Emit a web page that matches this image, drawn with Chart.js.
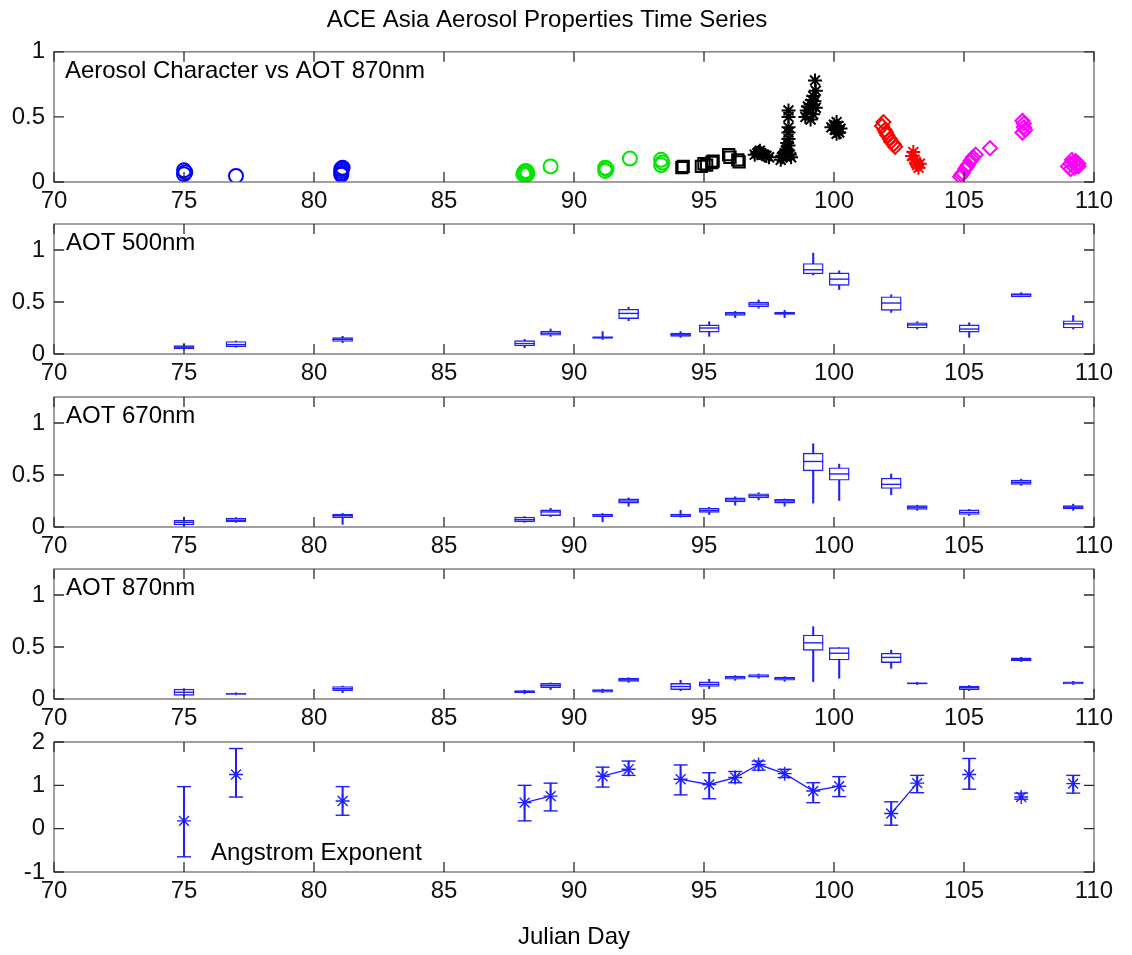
<!DOCTYPE html>
<html>
<head>
<meta charset="utf-8">
<title>ACE Asia Aerosol Properties Time Series</title>
<script src="https://cdn.jsdelivr.net/npm/chart.js@4.4.1/dist/chart.umd.min.js"></script>
<style>
  html, body { margin: 0; padding: 0; background: #fff; overflow: hidden; }
  #wrap { position: relative; width: 1132px; height: 955px; }
  #wrap canvas { position: absolute; left: 0; }
</style>
</head>
<body>
<div id="wrap">
  <canvas id="p1" width="1132" height="222" style="top:0px"></canvas>
  <canvas id="p2" width="1132" height="200" style="top:194px"></canvas>
  <canvas id="p3" width="1132" height="200" style="top:367px"></canvas>
  <canvas id="p4" width="1132" height="200" style="top:539px"></canvas>
  <canvas id="p5" width="1132" height="240" style="top:712px"></canvas>
</div>
<script>
// tick labels
const dayTicks = [70, 75, 80, 85, 90, 95, 100, 105, 110];
const charTicks = [0, 0.5, 1];
const aotTicks = [0, 0.5, 1];
const angTicks = [-1, 0, 1, 2];

// aerosol character vs AOT 870nm (julian day, AOT)
const blueCircleDay = [75.0, 75.0, 75.05, 77.0, 81.05, 81.05, 81.05, 81.05, 81.1];
const blueCircleAot = [0.06, 0.09, 0.075, 0.046, 0.055, 0.07, 0.085, 0.10, 0.11];
const greenCircleDay = [88.05, 88.1, 88.15, 88.2, 88.1, 88.2, 88.15, 89.1, 91.2, 91.25, 91.2, 92.15, 93.35, 93.4, 93.35];
const greenCircleAot = [0.06, 0.065, 0.07, 0.075, 0.08, 0.06, 0.085, 0.12, 0.085, 0.10, 0.11, 0.18, 0.13, 0.15, 0.17];
const blackSquareDay = [94.15, 94.2, 94.9, 95.0, 95.1, 95.3, 95.35, 95.95, 96.0, 96.3, 96.35];
const blackSquareAot = [0.11, 0.12, 0.12, 0.14, 0.13, 0.15, 0.16, 0.21, 0.19, 0.17, 0.155];
const blackStarDay = [96.95, 97.05, 97.1, 97.2, 97.3, 97.4, 97.5, 97.15,
  97.95, 98.0, 98.05, 98.1, 98.15, 98.2, 98.25, 98.2, 98.3, 98.35,
  98.25, 98.25, 98.25, 98.25, 98.25,
  98.9, 98.95, 99.0, 99.1, 99.15, 99.2, 99.25, 99.3, 99.2, 99.1, 99.3, 99.27,
  99.9, 100.0, 100.05, 100.1, 100.15, 100.2, 100.25, 100.1];
const blackStarAot = [0.21, 0.22, 0.23, 0.22, 0.21, 0.20, 0.19, 0.24,
  0.17, 0.19, 0.20, 0.22, 0.24, 0.25, 0.28, 0.30, 0.21, 0.19,
  0.55, 0.50, 0.42, 0.38, 0.33,
  0.50, 0.55, 0.58, 0.60, 0.63, 0.66, 0.62, 0.57, 0.52, 0.48, 0.70, 0.78,
  0.42, 0.44, 0.40, 0.46, 0.43, 0.38, 0.41, 0.37];
const redDiamondDay = [101.85, 101.9, 101.95, 102.0, 102.05, 102.15, 102.2, 102.3, 102.35];
const redDiamondAot = [0.43, 0.46, 0.40, 0.38, 0.36, 0.33, 0.31, 0.29, 0.27];
const redStarDay = [103.0, 103.05, 103.1, 103.15, 103.2, 103.25, 103.3];
const redStarAot = [0.20, 0.23, 0.17, 0.15, 0.13, 0.11, 0.14];
const magentaDiamondDay = [104.85, 104.9, 104.95, 105.05, 105.1, 105.15, 105.25, 105.3, 105.35, 105.45, 106.0,
  107.25, 107.3, 107.3, 107.35, 107.25,
  109.0, 109.1, 109.2, 109.3, 109.4, 109.15, 109.25, 109.1, 109.3, 109.4];
const magentaDiamondAot = [0.04, 0.055, 0.07, 0.10, 0.115, 0.13, 0.16, 0.175, 0.19, 0.21, 0.26,
  0.38, 0.42, 0.45, 0.40, 0.47,
  0.12, 0.14, 0.15, 0.13, 0.12, 0.17, 0.11, 0.10, 0.16, 0.14];

// daily box statistics
const boxDays = [75.0, 77.0, 81.1, 88.1, 89.1, 91.1, 92.1, 94.1, 95.2, 96.2, 97.1, 98.1, 99.2, 100.2, 102.2, 103.2, 105.2, 107.2, 109.2];

const aot500Lo  = [0.04, 0.065, 0.11, 0.06, 0.17, 0.14, 0.32, 0.16, 0.17, 0.35, 0.44, 0.35, 0.76, 0.62, 0.40, 0.24, 0.16, 0.55, 0.24];
const aot500Q1  = [0.05, 0.07, 0.12, 0.077, 0.18, 0.15, 0.34, 0.17, 0.21, 0.37, 0.455, 0.38, 0.77, 0.66, 0.42, 0.25, 0.21, 0.55, 0.25];
const aot500Med = [0.065, 0.09, 0.14, 0.10, 0.20, 0.16, 0.39, 0.185, 0.25, 0.385, 0.48, 0.39, 0.81, 0.72, 0.49, 0.28, 0.24, 0.57, 0.29];
const aot500Q3  = [0.08, 0.12, 0.157, 0.128, 0.22, 0.165, 0.43, 0.20, 0.28, 0.40, 0.50, 0.40, 0.87, 0.78, 0.55, 0.30, 0.28, 0.58, 0.32];
const aot500Hi  = [0.10, 0.125, 0.17, 0.14, 0.24, 0.215, 0.45, 0.215, 0.31, 0.41, 0.52, 0.42, 0.97, 0.80, 0.57, 0.31, 0.30, 0.59, 0.37];

const aot670Lo  = [0.01, 0.045, 0.025, 0.045, 0.10, 0.05, 0.20, 0.095, 0.12, 0.21, 0.26, 0.20, 0.23, 0.255, 0.31, 0.16, 0.11, 0.40, 0.16];
const aot670Q1  = [0.02, 0.05, 0.09, 0.05, 0.11, 0.10, 0.23, 0.10, 0.14, 0.24, 0.28, 0.23, 0.54, 0.45, 0.37, 0.17, 0.12, 0.41, 0.175];
const aot670Med = [0.045, 0.065, 0.11, 0.07, 0.145, 0.115, 0.25, 0.115, 0.16, 0.26, 0.30, 0.25, 0.63, 0.51, 0.41, 0.19, 0.14, 0.43, 0.19];
const aot670Q3  = [0.065, 0.085, 0.125, 0.095, 0.165, 0.125, 0.27, 0.125, 0.18, 0.28, 0.32, 0.265, 0.71, 0.57, 0.47, 0.205, 0.165, 0.45, 0.205];
const aot670Hi  = [0.095, 0.09, 0.13, 0.10, 0.18, 0.13, 0.28, 0.16, 0.19, 0.29, 0.33, 0.27, 0.80, 0.605, 0.51, 0.21, 0.17, 0.46, 0.22];

const aot870Lo  = [0.03, 0.04, 0.06, 0.05, 0.09, 0.06, 0.16, 0.08, 0.10, 0.18, 0.20, 0.17, 0.167, 0.20, 0.295, 0.14, 0.08, 0.36, 0.14];
const aot870Q1  = [0.035, 0.045, 0.08, 0.06, 0.11, 0.065, 0.17, 0.09, 0.12, 0.19, 0.21, 0.18, 0.468, 0.375, 0.35, 0.145, 0.09, 0.365, 0.145];
const aot870Med = [0.065, 0.05, 0.10, 0.07, 0.13, 0.08, 0.185, 0.12, 0.14, 0.21, 0.22, 0.20, 0.54, 0.44, 0.40, 0.15, 0.11, 0.38, 0.155];
const aot870Q3  = [0.095, 0.055, 0.12, 0.08, 0.15, 0.09, 0.20, 0.15, 0.165, 0.22, 0.235, 0.21, 0.615, 0.494, 0.44, 0.155, 0.125, 0.395, 0.165];
const aot870Hi  = [0.10, 0.06, 0.125, 0.085, 0.155, 0.095, 0.205, 0.18, 0.19, 0.225, 0.24, 0.215, 0.695, 0.494, 0.47, 0.16, 0.13, 0.40, 0.17];

// angstrom exponent mean and spread, runs of consecutive days are joined
const angMean = [0.18, 1.25, 0.64, 0.60, 0.75, 1.21, 1.37, 1.14, 1.02, 1.18, 1.48, 1.27, 0.87, 0.98, 0.35, 1.05, 1.25, 0.73, 1.04];
const angLo   = [-0.65, 0.73, 0.31, 0.18, 0.41, 0.96, 1.23, 0.78, 0.69, 1.06, 1.35, 1.18, 0.60, 0.74, 0.08, 0.83, 0.91, 0.68, 0.82];
const angHi   = [0.97, 1.85, 0.97, 1.00, 1.05, 1.42, 1.56, 1.47, 1.29, 1.32, 1.56, 1.37, 1.06, 1.20, 0.62, 1.23, 1.62, 0.82, 1.23];
const angRun  = [1, 2, 3, 4, 4, 5, 5, 6, 6, 6, 6, 6, 6, 6, 7, 7, 8, 9, 10];

const BLUE = 'rgb(30,30,255)';
const FONT = '"Liberation Sans", Arial, Helvetica, sans-serif';

Chart.defaults.font.family = FONT;
Chart.defaults.font.size = 24;
Chart.defaults.color = '#111';

const pts = (xs, ys) => xs.map((x, i) => ({x: x, y: ys[i]}));

// matlab style box with inward ticks and the panel label
const matlabAxes = {
    id: 'matlabAxes',
    afterDatasetsDraw(chart, args, opts) {
        const {ctx, chartArea: a, scales} = chart;
        const x = scales.x, y = scales.y;
        ctx.save();
        ctx.strokeStyle = '#6e6e6e';
        ctx.lineWidth = 1.3;
        ctx.strokeRect(a.left, a.top, a.right - a.left, a.bottom - a.top);
        ctx.strokeStyle = '#2a2a2a';
        ctx.beginPath();
        x.ticks.forEach(t => {
            const px = x.getPixelForValue(t.value);
            ctx.moveTo(px, a.bottom); ctx.lineTo(px, a.bottom - 10);
            ctx.moveTo(px, a.top); ctx.lineTo(px, a.top + 10);
        });
        y.ticks.forEach(t => {
            const py = y.getPixelForValue(t.value);
            ctx.moveTo(a.left, py); ctx.lineTo(a.left + 10, py);
            ctx.moveTo(a.right, py); ctx.lineTo(a.right - 10, py);
        });
        ctx.stroke();
        if (opts.text) {
            ctx.fillStyle = '#000';
            ctx.font = '24px ' + FONT;
            ctx.textAlign = 'left';
            ctx.textBaseline = 'middle';
            ctx.fillText(opts.text, x.getPixelForValue(opts.at[0]), y.getPixelForValue(opts.at[1]));
        }
        ctx.restore();
    }
};

function makePanel(id, datasets, yMin, yMax, yTicks, label, at, extra) {
    const xAxisHeight = extra && extra.xTitle ? 80 : 40;
    const options = {
        responsive: false,
        devicePixelRatio: 1,
        animation: false,
        events: [],
        layout: {padding: {top: extra && extra.title ? 0 : 30, right: 38, left: 0, bottom: 0}},
        plugins: {
            legend: {display: false},
            tooltip: {enabled: false},
            title: {
                display: !!(extra && extra.title),
                text: extra && extra.title ? extra.title : '',
                color: '#000',
                font: {size: 24, weight: 'normal'},
                padding: {top: 6, bottom: 17}
            },
            matlabAxes: {text: label, at: at}
        },
        scales: {
            x: {
                type: 'linear',
                offset: false,
                min: 70,
                max: 110,
                grid: {display: false, drawTicks: false},
                border: {display: false},
                afterBuildTicks: s => { s.ticks = dayTicks.map(v => ({value: v})); },
                afterFit: s => { s.height = xAxisHeight; },
                ticks: {padding: 5, maxRotation: 0, autoSkip: false, callback: v => String(v)},
                title: {
                    display: !!(extra && extra.xTitle),
                    text: extra && extra.xTitle ? extra.xTitle : '',
                    color: '#000',
                    font: {size: 24},
                    padding: {top: 0, bottom: 0}
                }
            },
            y: {
                type: 'linear',
                min: yMin,
                max: yMax,
                grid: {display: false, drawTicks: false},
                border: {display: false},
                afterBuildTicks: s => { s.ticks = yTicks.map(v => ({value: v})); },
                afterFit: s => { s.width = 54; },
                ticks: {padding: 9, autoSkip: false, callback: v => String(v)}
            }
        }
    };
    return new Chart(document.getElementById(id), {
        type: 'scatter',
        data: {datasets: datasets},
        options: options,
        plugins: [matlabAxes]
    });
}

function markerSet(xs, ys, color, style, radius) {
    return {
        type: 'scatter',
        data: pts(xs, ys),
        pointStyle: style,
        pointRadius: radius,
        borderColor: color,
        backgroundColor: 'rgba(0,0,0,0)',
        borderWidth: 2
    };
}

function boxSets(lo, q1, med, q3, hi) {
    return [
        {
            type: 'bar', order: 3, grouped: false,
            data: boxDays.map((d, i) => ({x: d, y: [lo[i], hi[i]]})),
            barThickness: 1.4,
            backgroundColor: BLUE,
            borderWidth: 0
        },
        {
            type: 'bar', order: 2, grouped: false,
            data: boxDays.map((d, i) => ({x: d, y: [q1[i], q3[i]]})),
            barThickness: 20,
            backgroundColor: '#fff',
            borderColor: BLUE,
            borderWidth: 1.4,
            borderSkipped: false
        },
        {
            type: 'scatter', order: 1,
            data: pts(boxDays, med),
            pointStyle: 'line',
            pointRadius: 10,
            borderColor: BLUE,
            borderWidth: 1.4
        }
    ];
}

// panel 1: aerosol character
makePanel('p1', [
    markerSet(blueCircleDay, blueCircleAot, 'rgb(0,0,255)', 'circle', 7),
    markerSet(greenCircleDay, greenCircleAot, 'rgb(0,230,0)', 'circle', 7),
    markerSet(blackSquareDay, blackSquareAot, '#000', 'rect', 8),
    markerSet(blackStarDay, blackStarAot, '#000', 'star', 7),
    markerSet(redDiamondDay, redDiamondAot, 'rgb(255,0,0)', 'rectRot', 7),
    markerSet(redStarDay, redStarAot, 'rgb(255,0,0)', 'star', 7),
    markerSet(magentaDiamondDay, magentaDiamondAot, 'rgb(255,0,255)', 'rectRot', 7)
], 0, 1, charTicks, 'Aerosol Character vs AOT 870nm', [70.42, 0.846],
    {title: 'ACE Asia Aerosol Properties Time Series'});

makePanel('p2', boxSets(aot500Lo, aot500Q1, aot500Med, aot500Q3, aot500Hi),
    0, 1.25, aotTicks, 'AOT 500nm', [70.46, 1.065]);
makePanel('p3', boxSets(aot670Lo, aot670Q1, aot670Med, aot670Q3, aot670Hi),
    0, 1.25, aotTicks, 'AOT 670nm', [70.46, 1.06]);
makePanel('p4', boxSets(aot870Lo, aot870Q1, aot870Med, aot870Q3, aot870Hi),
    0, 1.25, aotTicks, 'AOT 870nm', [70.46, 1.065]);

// panel 5: angstrom exponent with error bars
const angLine = [];
boxDays.forEach((d, i) => {
    if (i > 0 && angRun[i] !== angRun[i - 1]) {
        angLine.push({x: (boxDays[i - 1] + d) / 2, y: null});
    }
    angLine.push({x: d, y: angMean[i]});
});

makePanel('p5', [
    {
        type: 'bar', order: 4, grouped: false,
        data: boxDays.map((d, i) => ({x: d, y: [angLo[i], angHi[i]]})),
        barThickness: 1.4,
        backgroundColor: BLUE,
        borderWidth: 0
    },
    {
        type: 'scatter', order: 3,
        data: pts(boxDays, angLo).concat(pts(boxDays, angHi)),
        pointStyle: 'line',
        pointRadius: 7,
        borderColor: BLUE,
        borderWidth: 1.4
    },
    {
        type: 'line', order: 2,
        data: angLine,
        spanGaps: false,
        pointRadius: 0,
        borderColor: BLUE,
        borderWidth: 1.3,
        tension: 0
    },
    {
        type: 'scatter', order: 1,
        data: pts(boxDays, angMean),
        pointStyle: 'star',
        pointRadius: 7,
        borderColor: BLUE,
        borderWidth: 1.4
    }
], -1, 2, angTicks, 'Angstrom Exponent', [76.04, -0.57], {xTitle: 'Julian Day'});
</script>
</body>
</html>
